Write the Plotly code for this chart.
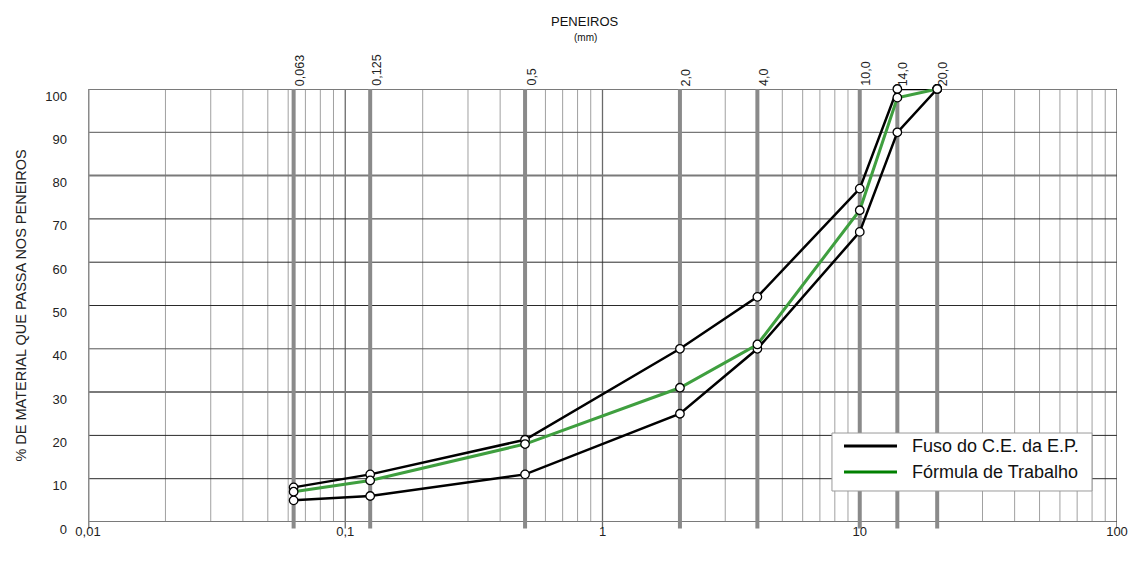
import math
import plotly.graph_objects as go

# ---- data ----
sieves = [0.063, 0.125, 0.5, 2.0, 4.0, 10.0, 14.0, 20.0]
sieve_labels = ["0,063", "0,125", "0,5", "2,0", "4,0", "10,0", "14,0", "20,0"]
upper = [8, 11, 19, 40, 52, 77, 100, 100]
lower = [5, 6, 11, 25, 40, 67, 90, 100]
formula = [7, 9.6, 18, 31, 41, 72, 98, 100]
x_tickvals = [0.01, 0.1, 1, 10, 100]
x_ticktext = ["0,01", "0,1", "1", "10", "100"]
y_ticks = list(range(0, 101, 10))
legend_names = ["Fuso do C.E. da E.P.", "Fórmula de Trabalho"]

FONT = "Arial, Liberation Sans, sans-serif"
GREEN_LINE = "#3f9f3f"
GREEN_LEG = "#008000"

fig = go.Figure()

marker = dict(size=8.5, color="white", line=dict(color="black", width=1.3))
for vals in [upper, lower]:
    fig.add_trace(go.Scatter(x=sieves, y=vals, mode="lines+markers", name=legend_names[0],
                             line=dict(color="black", width=2.5), marker=marker,
                             showlegend=False, cliponaxis=False))
fig.add_trace(go.Scatter(x=sieves, y=formula, mode="lines+markers", name=legend_names[1],
                         line=dict(color=GREEN_LINE, width=3), marker=marker,
                         showlegend=False, cliponaxis=False))

shapes = []
# minor log grid lines
for k in range(-2, 2):
    for d in range(2, 10):
        v = d * 10 ** k
        shapes.append(dict(type="line", xref="x", yref="paper", x0=v, x1=v, y0=0, y1=1,
                           line=dict(color="#a0a0a0", width=1), layer="below"))
# decade lines
for v in [0.1, 1]:
    shapes.append(dict(type="line", xref="x", yref="paper", x0=v, x1=v, y0=-0.015, y1=1,
                       line=dict(color="#6a6a6a", width=1.3), layer="below"))
# horizontal grid
heavy = {0, 30, 80, 100}
medium = {40, 90}
for yv in y_ticks:
    if yv in heavy:
        col, w = "#7a7a7a", 2
    elif yv in medium:
        col, w = "#555555", 1
    else:
        col, w = "#2a2a2a", 1
    shapes.append(dict(type="line", xref="paper", yref="y", x0=0, x1=1, y0=yv, y1=yv,
                       line=dict(color=col, width=w), layer="below"))
# sieve thick lines
for v in sieves:
    shapes.append(dict(type="line", xref="x", yref="paper", x0=v, x1=v, y0=-0.015, y1=1,
                       line=dict(color="#8a8a8a", width=4), layer="below"))
# borders
shapes.append(dict(type="line", xref="x", yref="paper", x0=x_tickvals[0], x1=x_tickvals[0],
                   y0=-0.015, y1=1, line=dict(color="#8a8a8a", width=3), layer="below"))
shapes.append(dict(type="line", xref="x", yref="paper", x0=x_tickvals[-1], x1=x_tickvals[-1],
                   y0=-0.015, y1=1, line=dict(color="#444444", width=1.2), layer="below"))

# legend box (drawn)
shapes.append(dict(type="rect", xref="paper", yref="paper", x0=0.723, x1=0.9757,
                   y0=0.0716, y1=0.2055, fillcolor="white",
                   line=dict(color="#9a9a9a", width=1), layer="above"))
annotations = []
for (yy, col, name) in [(0.1755, "black", legend_names[0]), (0.1155, GREEN_LEG, legend_names[1])]:
    shapes.append(dict(type="line", xref="paper", yref="paper", x0=0.7347, x1=0.7862,
                       y0=yy, y1=yy, line=dict(color=col, width=3), layer="above"))
    annotations.append(dict(x=0.7988, y=yy, xref="paper", yref="paper", text=name,
                            showarrow=False, xanchor="left", yanchor="middle",
                            font=dict(size=18, color="#111", family=FONT)))

for v, lab in zip(sieves, sieve_labels):
    annotations.append(dict(x=math.log10(v), y=1, xref="x", yref="paper", text=lab,
                            textangle=-90, showarrow=False, xanchor="center", yanchor="bottom",
                            xshift=6, yshift=1, font=dict(size=12.5, color="#222", family=FONT)))
annotations.append(dict(x=0.483, y=1.155, xref="paper", yref="paper", text="PENEIROS",
                        showarrow=False, xanchor="center", yanchor="middle",
                        font=dict(size=13, color="#111", family=FONT)))
annotations.append(dict(x=0.483, y=1.118, xref="paper", yref="paper", text="(mm)",
                        showarrow=False, xanchor="center", yanchor="middle",
                        font=dict(size=10, color="#111", family=FONT)))
annotations.append(dict(x=-0.066, y=0.5, xref="paper", yref="paper",
                        text="% DE MATERIAL QUE PASSA NOS PENEIROS", textangle=-90,
                        showarrow=False, xanchor="center", yanchor="middle",
                        font=dict(size=14.5, color="#222", family=FONT)))

fig.update_layout(
    width=1132, height=567, autosize=False,
    margin=dict(l=88, r=15, t=89, b=45, autoexpand=False),
    paper_bgcolor="white", plot_bgcolor="white",
    font=dict(family=FONT, color="#222"),
    shapes=shapes, annotations=annotations, showlegend=False,
    xaxis=dict(type="log", range=[-2, 2], showgrid=False, zeroline=False, showline=False,
               tickvals=x_tickvals, ticktext=x_ticktext, ticks="", automargin=False,
               tickfont=dict(size=13, color="#222", family=FONT), ticklabelstandoff=0),
    yaxis=dict(range=[0, 100], showgrid=False, zeroline=False, showline=False,
               tickvals=y_ticks, ticks="", automargin=False,
               tickfont=dict(size=13, color="#222", family=FONT),
               ticklabelstandoff=20, ticklabelshift=7),
)

fig.write_html("out.html", config={"displayModeBar": False},
               post_script="document.body.style.margin='0';document.body.style.overflow='hidden';")
